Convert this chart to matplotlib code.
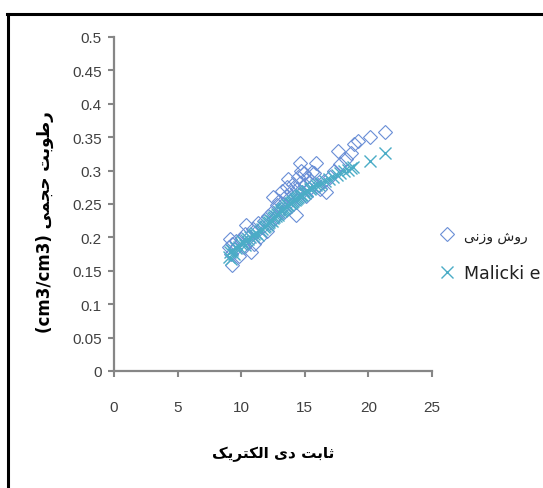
import matplotlib
matplotlib.use("Agg")
import matplotlib.pyplot as plt
from matplotlib.lines import Line2D

# --- data ---
# روش وزنی (gravimetric method)
x_grav = [9.0, 9.1, 9.2, 9.3, 9.3, 9.5, 9.6, 9.8, 10.0, 10.2, 10.3, 10.4, 10.5, 10.6,
          10.8, 10.9, 11.0, 11.2, 11.3, 11.5, 11.6, 11.8, 12.0, 12.1, 12.2, 12.4, 12.5,
          12.6, 12.8, 12.9, 13.0, 13.1, 13.2, 13.3, 13.4, 13.5, 13.6, 13.7, 13.8, 13.9,
          14.0, 14.1, 14.2, 14.3, 14.4, 14.5, 14.6, 14.6, 14.7, 14.8, 14.9, 15.0, 15.1,
          15.2, 15.3, 15.5, 15.6, 15.7, 15.9, 16.0, 16.2, 16.5, 16.7, 17.0, 17.3, 17.6,
          17.8, 18.2, 18.6, 18.9, 19.2, 20.1, 21.3]
y_grav = [0.185, 0.197, 0.175, 0.158, 0.190, 0.182, 0.195, 0.172, 0.198, 0.186, 0.205,
          0.218, 0.193, 0.200, 0.178, 0.212, 0.190, 0.208, 0.222, 0.200, 0.215, 0.225,
          0.210, 0.232, 0.222, 0.238, 0.260, 0.228, 0.248, 0.235, 0.255, 0.242, 0.270,
          0.250, 0.238, 0.262, 0.275, 0.287, 0.255, 0.268, 0.248, 0.280, 0.262, 0.233,
          0.272, 0.290, 0.312, 0.282, 0.300, 0.268, 0.297, 0.278, 0.262, 0.290, 0.272,
          0.285, 0.298, 0.297, 0.312, 0.278, 0.272, 0.285, 0.268, 0.290, 0.300, 0.330,
          0.310, 0.318, 0.327, 0.340, 0.345, 0.351, 0.358]

# Malicki equation
x_mal = [9.0, 9.1, 9.2, 9.3, 9.4, 9.6, 9.8, 10.0, 10.1, 10.3, 10.4, 10.5, 10.7, 10.9,
         11.0, 11.2, 11.3, 11.5, 11.6, 11.8, 11.9, 12.0, 12.1, 12.2, 12.3, 12.4, 12.5,
         12.6, 12.7, 12.8, 12.9, 13.0, 13.1, 13.2, 13.3, 13.4, 13.5, 13.6, 13.7, 13.8,
         13.9, 14.0, 14.1, 14.2, 14.3, 14.4, 14.5, 14.6, 14.7, 14.8, 14.9, 15.0, 15.1,
         15.2, 15.4, 15.5, 15.7, 15.9, 16.1, 16.3, 16.6, 16.9, 17.2, 17.5, 17.8, 18.1,
         18.4, 18.6, 18.8, 20.1, 21.3]
y_mal = [0.170, 0.178, 0.168, 0.181, 0.175, 0.184, 0.186, 0.190, 0.194, 0.189, 0.196,
         0.198, 0.200, 0.202, 0.205, 0.207, 0.203, 0.210, 0.213, 0.215, 0.217, 0.219,
         0.221, 0.223, 0.226, 0.225, 0.229, 0.231, 0.232, 0.235, 0.233, 0.238, 0.240,
         0.241, 0.243, 0.244, 0.246, 0.248, 0.249, 0.251, 0.252, 0.253, 0.255, 0.256,
         0.258, 0.259, 0.261, 0.262, 0.264, 0.263, 0.266, 0.267, 0.269, 0.270, 0.272,
         0.274, 0.275, 0.278, 0.279, 0.282, 0.284, 0.288, 0.290, 0.293, 0.296, 0.299,
         0.301, 0.304, 0.306, 0.315, 0.327]

x_ticks = [0, 5, 10, 15, 20, 25]
y_ticks = [0, 0.05, 0.1, 0.15, 0.2, 0.25, 0.3, 0.35, 0.4, 0.45, 0.5]
y_ticklabels = ["0", "0.05", "0.1", "0.15", "0.2", "0.25", "0.3", "0.35", "0.4", "0.45", "0.5"]

# Persian text as presentation forms in visual (left-to-right) order
fa_ratoobat = "\uFE96\uFE91\uFEEE\uFEC3\uFEAD"          # رطوبت
fa_hajmi = "\uFEF0\uFEE4\uFEA0\uFEA3"                  # حجمی
fa_sabet = "\uFE96\uFE91\uFE8E\uFE9B"                  # ثابت
fa_di = "\uFEEF\uFEA9"                                 # دی
fa_electric = "\uFB8F\uFEF3\uFEAE\uFE98\uFB91\uFEDF\uFE8D"  # الکتریک
fa_ravesh = "\uFEB5\uFEED\uFEAD"                       # روش
fa_vazni = "\uFEF0\uFEE7\uFEAF\uFEED"                  # وزنی

ylabel = "(cm3/cm3) " + fa_hajmi + " " + fa_ratoobat
xlabel = fa_electric + " " + fa_di + " " + fa_sabet
label_grav = fa_vazni + " " + fa_ravesh
label_mal = "Malicki e"   # legend entry is cut at the chart edge in the source

num_font = ["Liberation Sans Narrow", "Liberation Sans", "DejaVu Sans"]
gray = "#868686"
txt = "#404040"

fig = plt.figure(figsize=(5.43, 4.89), dpi=100)
ax = fig.add_axes([0.21, 0.2393, 0.5856, 0.683])

ax.plot(x_grav, y_grav, linestyle="none", marker="D", markersize=7,
        markerfacecolor="none", markeredgecolor="#6A8FD6", markeredgewidth=0.8,
        label=label_grav)
ax.plot(x_mal, y_mal, linestyle="none", marker="x", markersize=8,
        color="#4BACC6", markeredgewidth=1.0, label=label_mal)

ax.set_xlim(0, 25)
ax.set_ylim(0, 0.5)
ax.set_xticks(x_ticks)
ax.set_yticks(y_ticks)
ax.set_yticklabels(y_ticklabels)

for s in ["top", "right"]:
    ax.spines[s].set_visible(False)
for s in ["left", "bottom"]:
    ax.spines[s].set_color(gray)
    ax.spines[s].set_linewidth(1.6)
ax.tick_params(axis="both", direction="out", length=4, width=1.5, color=gray,
               labelcolor=txt, labelsize=11)
ax.tick_params(axis="x", pad=17)
ax.tick_params(axis="y", pad=5)
for lab in ax.get_xticklabels() + ax.get_yticklabels():
    lab.set_family(num_font)

ax.set_xlabel(xlabel, fontsize=11, fontweight="bold", family="DejaVu Sans")
ax.xaxis.set_label_coords(0.5, -0.225)
ax.set_ylabel(ylabel, fontsize=12, fontweight="bold", family="DejaVu Sans")
ax.yaxis.set_label_coords(-0.19, 0.45)

leg = ax.legend(loc="upper left", bbox_to_anchor=(0.975, 0.475), frameon=False,
                handlelength=0.8, handletextpad=0.6, labelspacing=1.2,
                prop={"family": ["Liberation Sans Narrow", "DejaVu Sans"], "size": 12.5})
leg_texts = leg.get_texts()
leg_texts[0].set_fontsize(10)
for t in leg_texts:
    t.set_color("#202020")

# outer chart border (only left and top edges visible in the crop)
fig.add_artist(Line2D([0.0146, 0.0146], [0.0, 0.969], transform=fig.transFigure,
                      color="black", linewidth=2.2))
fig.add_artist(Line2D([0.0127, 1.0], [0.969, 0.969], transform=fig.transFigure,
                      color="black", linewidth=2.2))

fig.savefig("out.png", dpi=100, facecolor="white")
